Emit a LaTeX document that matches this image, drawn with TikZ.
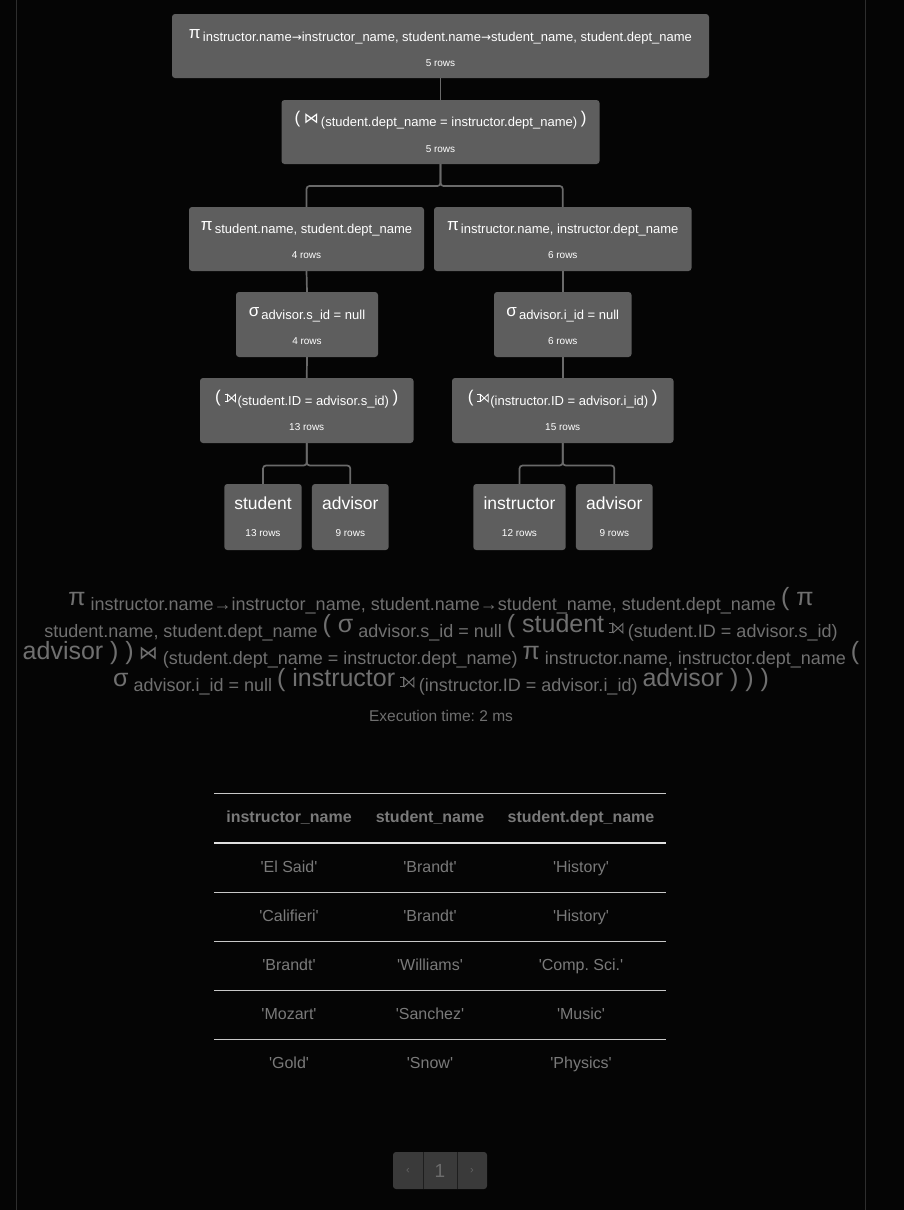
\documentclass[tikz,border=0pt]{standalone}
\usepackage{fontspec}
\usepackage{pict2e}
\setmainfont{Liberation Sans}[Ligatures=TeXOff]
\newfontfamily\sym{DejaVu Sans}
\usetikzlibrary{calc}
\definecolor{bg}{HTML}{050505}
\definecolor{nodefill}{HTML}{5E5E5E}
\definecolor{conncol}{HTML}{6A6A6A}
\definecolor{exprcol}{HTML}{707070}
\definecolor{tabcol}{HTML}{7A7A7A}
\definecolor{rulecol}{HTML}{C8C8C8}
\definecolor{sidecol}{HTML}{2E2E2E}
\definecolor{pagefill}{HTML}{3A3A3A}
\definecolor{pageline}{HTML}{1E1E1E}
\newcommand\Nbig[1]{{\fontsize{17}{17}\selectfont #1}}
\newcommand\Nsub[1]{\raisebox{-3pt}{#1}}
\newcommand\Narr{{\sym\fontsize{12}{12}\selectfont →}}
\newcommand\Eb[1]{{\fontsize{25}{25}\selectfont #1}}
\newcommand\Es[1]{\raisebox{-4.5pt}{\fontsize{18}{20}\selectfont #1}}
% left outer join symbol (U+27D5), drawn: no installed font has it
% #1 = unit (pt), #2 = line thickness
\newcommand\lojsym[2]{{\setlength\unitlength{#1pt}\linethickness{#2}%
  \begin{picture}(11,7.5)(-3,0)
  \polyline(-2.8,7.5)(0,7.5)(0,0)(-2.8,0)
  \polyline(0,0)(8,7.5)(8,0)(0,7.5)(0,0)
  \end{picture}}}
\frenchspacing
\begin{document}
\begin{tikzpicture}[x=1pt,y=-1pt,
  box/.style={fill=nodefill, rounded corners=3pt, inner sep=0pt, draw=none},
  conn/.style={draw=conncol, line width=1.7pt, rounded corners=3pt},
  lbl/.style={text=white, font=\fontsize{13}{15}\selectfont, inner sep=0pt},
  rowlbl/.style={text=white, font=\fontsize{10}{12}\selectfont, inner sep=0pt},
  leaflbl/.style={text=white, font=\fontsize{17.5}{19}\selectfont, inner sep=0pt, text height=12.5pt, text depth=3.5pt},
  expr/.style={text=exprcol, font=\fontsize{18}{20}\selectfont, inner sep=0pt},
  cell/.style={text=tabcol, font=\fontsize{16}{18}\selectfont, inner sep=0pt, text height=11.5pt, text depth=3.4pt},
  head/.style={text=tabcol, font=\fontsize{16}{18}\selectfont\bfseries, inner sep=0pt, text height=11.5pt, text depth=3.4pt},
  trule/.style={draw=rulecol, line width=0.9pt},
]
\fill[bg] (0,0) rectangle (904,1210);
\useasboundingbox (0,0) rectangle (904,1210);
\draw[sidecol, line width=1pt] (16.5,0) -- (16.5,1210);
\draw[sidecol, line width=1pt] (865.5,0) -- (865.5,1210);

% ---------- boxes ----------
\node[box, minimum width=537pt, minimum height=64pt] (top) at (440.5,46) {};
\node[box, minimum width=318pt, minimum height=64pt] (join) at (440.5,132) {};
\node[box, minimum width=235pt, minimum height=64pt] (lpi) at (306.5,239) {};
\node[box, minimum width=257.5pt, minimum height=64pt] (rpi) at (562.75,239) {};
\node[box, minimum width=142pt, minimum height=65pt] (lsig) at (307,324.5) {};
\node[box, minimum width=137.5pt, minimum height=65pt] (rsig) at (562.75,324.5) {};
\node[box, minimum width=213.5pt, minimum height=65pt] (ljoin) at (306.75,410.5) {};
\node[box, minimum width=221.5pt, minimum height=65pt] (rjoin) at (562.75,410.5) {};
\node[box, minimum width=77.4pt, minimum height=66pt] (student) at (263,517) {};
\node[box, minimum width=76.7pt, minimum height=66pt] (advisorA) at (350.3,517) {};
\node[box, minimum width=92.4pt, minimum height=66pt] (instructor) at (519.5,517) {};
\node[box, minimum width=76.7pt, minimum height=66pt] (advisorB) at (614.3,517) {};

% ---------- box texts ----------
\node[lbl] (topT) at (440.5,37) {\Nbig{π}\,\Nsub{instructor.name\Narr instructor\_name, student.name\Narr student\_name, student.dept\_name}};
\node[rowlbl] (topR) at (440.5,63) {5 rows};
\node[lbl] (joinT) at (440.5,120) {\Nbig{(}\ {\sym\fontsize{15}{15}\selectfont ⋈}\,\Nsub{(student.dept\_name = instructor.dept\_name)}\ \Nbig{)}};
\node[rowlbl] (joinR) at (440.5,149) {5 rows};
\node[lbl] (lpiT) at (306.5,228.5) {\Nbig{π}\,\Nsub{student.name, student.dept\_name}};
\node[rowlbl] (lpiR) at (306.5,255) {4 rows};
\node[lbl] (rpiT) at (562.75,228.5) {\Nbig{π}\,\Nsub{instructor.name, instructor.dept\_name}};
\node[rowlbl] (rpiR) at (562.75,255) {6 rows};
\node[lbl] (lsigT) at (307,314.5) {\Nbig{σ}\,\Nsub{advisor.s\_id = null}};
\node[rowlbl] (lsigR) at (307,341) {4 rows};
\node[lbl] (rsigT) at (562.75,314.5) {\Nbig{σ}\,\Nsub{advisor.i\_id = null}};
\node[rowlbl] (rsigR) at (562.75,341) {6 rows};
\node[lbl] (ljoinT) at (306.75,399.5) {\Nbig{(}\ \raisebox{1pt}{\lojsym{1}{0.8pt}}\,\Nsub{(student.ID = advisor.s\_id)}\ \Nbig{)}};
\node[rowlbl] (ljoinR) at (306.75,427) {13 rows};
\node[lbl] (rjoinT) at (562.75,399.5) {\Nbig{(}\ \raisebox{1pt}{\lojsym{1}{0.8pt}}\,\Nsub{(instructor.ID = advisor.i\_id)}\ \Nbig{)}};
\node[rowlbl] (rjoinR) at (562.75,427) {15 rows};
\node[leaflbl] (studentT) at (263,505) {student};
\node[rowlbl] (studentR) at (263,533) {13 rows};
\node[leaflbl] (advisorAT) at (350.3,505) {advisor};
\node[rowlbl] (advisorAR) at (350.3,533) {9 rows};
\node[leaflbl] (instructorT) at (519.5,505) {instructor};
\node[rowlbl] (instructorR) at (519.5,533) {12 rows};
\node[leaflbl] (advisorBT) at (614.3,505) {advisor};
\node[rowlbl] (advisorBR) at (614.3,533) {9 rows};

% ---------- connectors ----------
\coordinate (barTop) at (0,186);
\coordinate (barLeaf) at (0,465.5);
\draw[conn] (top.south) -- (join.north);
\draw[conn] (join.south) -- (join.south |- barTop) -| (lpi.north);
\draw[conn] (join.south) -- (join.south |- barTop) -| (rpi.north);
\draw[conn] (lpi.south) -- (lsig.north);
\draw[conn] (rpi.south) -- (rsig.north);
\draw[conn] (lsig.south) -- (ljoin.north);
\draw[conn] (rsig.south) -- (rjoin.north);
\draw[conn] (ljoin.south) -- (ljoin.south |- barLeaf) -| (student.north);
\draw[conn] (ljoin.south) -- (ljoin.south |- barLeaf) -| (advisorA.north);
\draw[conn] (rjoin.south) -- (rjoin.south |- barLeaf) -| (instructor.north);
\draw[conn] (rjoin.south) -- (rjoin.south |- barLeaf) -| (advisorB.north);

% ---------- expression ----------
\node[expr] (e1) at (441,601) {\Eb{π}\ \Es{instructor.name→instructor\_name, student.name→student\_name, student.dept\_name}\ \Eb{( π}};
\node[expr] (e2) at (441,628) {\Es{student.name, student.dept\_name}\ \Eb{( σ}\ \Es{advisor.s\_id = null}\ \Eb{( student}\ \lojsym{1.25}{1pt}\ \Es{(student.ID = advisor.s\_id)}};
\node[expr] (e3) at (441,655) {\Eb{advisor ) )}\ {\sym\fontsize{19}{19}\selectfont ⋈}\ \Es{(student.dept\_name = instructor.dept\_name)}\ \Eb{π}\ \Es{instructor.name, instructor.dept\_name}\ \Eb{(}};
\node[expr] (e4) at (441,682) {\Eb{σ}\ \Es{advisor.i\_id = null}\ \Eb{( instructor}\ \lojsym{1.25}{1pt}\ \Es{(instructor.ID = advisor.i\_id)}\ \Eb{advisor ) ) )}};
\node[expr, font=\fontsize{15.5}{17}\selectfont] (exec) at (441,716) {Execution time: 2 ms};

% ---------- table ----------
\draw[trule] (214,793) -- (666,793);
\draw[draw=white!88!black, line width=1.8pt] (214,843) -- (666,843);
\draw[trule] (214,892) -- (666,892);
\draw[trule] (214,941) -- (666,941);
\draw[trule] (214,990) -- (666,990);
\draw[trule] (214,1039) -- (666,1039);
\node[head] (h1) at (289,818) {instructor\_name};
\node[head] (h2) at (430,818) {student\_name};
\node[head] (h3) at (581,818) {student.dept\_name};
\node[cell] (r1a) at (289,868) {'El Said'};
\node[cell] (r1b) at (430,868) {'Brandt'};
\node[cell] (r1c) at (581,868) {'History'};
\node[cell] (r2a) at (289,917) {'Califieri'};
\node[cell] (r2b) at (430,917) {'Brandt'};
\node[cell] (r2c) at (581,917) {'History'};
\node[cell] (r3a) at (289,966) {'Brandt'};
\node[cell] (r3b) at (430,966) {'Williams'};
\node[cell] (r3c) at (581,966) {'Comp. Sci.'};
\node[cell] (r4a) at (289,1015) {'Mozart'};
\node[cell] (r4b) at (430,1015) {'Sanchez'};
\node[cell] (r4c) at (581,1015) {'Music'};
\node[cell] (r5a) at (289,1064) {'Gold'};
\node[cell] (r5b) at (430,1064) {'Snow'};
\node[cell] (r5c) at (581,1064) {'Physics'};

% ---------- pagination ----------
\fill[pagefill, rounded corners=3pt] (393,1152) rectangle (487,1189);
\draw[pageline, line width=1pt] (423,1152) -- (423,1189);
\draw[pageline, line width=1pt] (457,1152) -- (457,1189);
\node[text=tabcol!80!black, font=\fontsize{11}{12}\selectfont, inner sep=0pt] (prev) at (408,1170.5) {‹};
\node[text=tabcol!110!white, font=\fontsize{19}{20}\selectfont, inner sep=0pt] (pg) at (440,1170.5) {1};
\node[text=tabcol!80!black, font=\fontsize{11}{12}\selectfont, inner sep=0pt] (next) at (472,1170.5) {›};
\end{tikzpicture}
\end{document}
